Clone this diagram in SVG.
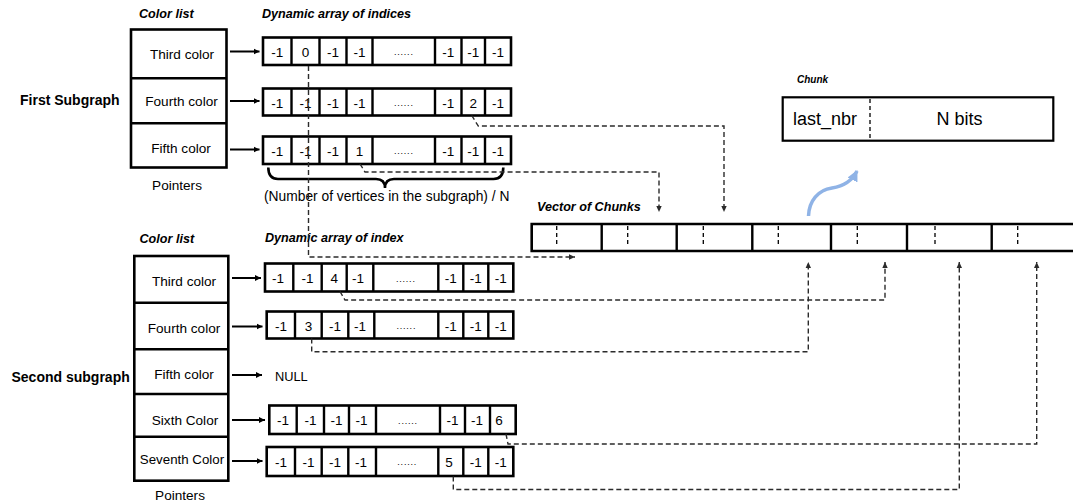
<svg xmlns="http://www.w3.org/2000/svg" width="1073" height="504" viewBox="0 0 1073 504">
<style>
text{font-family:"Liberation Sans",Arial,sans-serif;fill:#000}
.lbl{font-size:13.6px;text-anchor:middle}
.title{font-size:12.6px;font-weight:bold;font-style:italic}
.sg{font-size:14px;font-weight:bold}
.cell{font-size:13.5px;text-anchor:middle}
.dots{font-size:9px;text-anchor:middle;letter-spacing:0.8px}
.box{fill:#fff;stroke:#000;stroke-width:2.6}
.div{stroke:#000;stroke-width:2.4}
.ptr{stroke:#000;stroke-width:2;fill:none;marker-end:url(#ah)}
.dc{stroke:#2b2b2b;stroke-width:1.4;stroke-dasharray:5 3;fill:none}
.dca{stroke:#2b2b2b;stroke-width:1.4;stroke-dasharray:5 3;fill:none;marker-end:url(#dh)}
.vd{stroke:#000;stroke-width:1.3;stroke-dasharray:4 3}
</style>
<defs>
<marker id="ah" markerUnits="userSpaceOnUse" markerWidth="8" markerHeight="8" refX="6" refY="4" orient="auto"><path d="M0,1 L6,4 L0,7z" fill="#000"/></marker>
<marker id="dh" markerUnits="userSpaceOnUse" markerWidth="8" markerHeight="8" refX="6" refY="4" orient="auto"><path d="M0,1.3 L6,4 L0,6.7z" fill="#2b2b2b"/></marker>
<marker id="bh" markerUnits="userSpaceOnUse" markerWidth="14" markerHeight="14" refX="10" refY="7" orient="auto"><path d="M0,1.5 L11,7 L0,12.5z" fill="#8FB3E6"/></marker>
</defs>

<!-- labels -->
<g id="labels">
<text class="title" x="139" y="18">Color list</text>
<text class="title" x="262" y="18">Dynamic array of indices</text>
<text class="sg" x="20" y="105">First Subgraph</text>
<text class="lbl" x="177" y="190">Pointers</text>
<text x="264" y="201" style="font-size:13.8px">(Number of vertices in the subgraph) / N</text>
<text class="title" x="797" y="83" style="font-size:10px">Chunk</text>
<text class="title" x="537" y="211">Vector of Chunks</text>
<text class="title" x="139.5" y="242.5">Color list</text>
<text class="title" x="265" y="242">Dynamic array of index</text>
<text class="sg" x="11.5" y="382">Second subgraph</text>
<text class="lbl" x="180" y="500">Pointers</text>
</g>

<!-- first subgraph color list -->
<g id="colorlist1">
<rect class="box" x="131" y="29.5" width="95.5" height="138"/>
<line class="div" x1="131" y1="78.3" x2="226.5" y2="78.3"/>
<line class="div" x1="131" y1="123.3" x2="226.5" y2="123.3"/>
<text class="lbl" x="182" y="59">Third color</text>
<text class="lbl" x="181.5" y="105.5">Fourth color</text>
<text class="lbl" x="181" y="152.5">Fifth color</text>
</g>

<!-- second subgraph color list -->
<g id="colorlist2">
<rect class="box" x="134.3" y="256" width="94" height="224.7"/>
<line class="div" x1="134.3" y1="302.7" x2="228.3" y2="302.7"/>
<line class="div" x1="134.3" y1="349.3" x2="228.3" y2="349.3"/>
<line class="div" x1="134.3" y1="394" x2="228.3" y2="394"/>
<line class="div" x1="134.3" y1="436.7" x2="228.3" y2="436.7"/>
<text class="lbl" x="184" y="286">Third color</text>
<text class="lbl" x="184" y="333">Fourth color</text>
<text class="lbl" x="184" y="379">Fifth color</text>
<text class="lbl" x="185" y="425">Sixth Color</text>
<text class="lbl" x="182" y="464" style="font-size:13.3px">Seventh Color</text>
<text x="275" y="380.5" style="font-size:12.8px">NULL</text>
</g>

<!-- top arrays -->
<g id="arrayT1">
<rect class="box" x="263" y="37.5" width="248" height="27.5"/>
<path class="div" d="M291.5,37.5V65M319.5,37.5V65M346.5,37.5V65M372.5,37.5V65M435,37.5V65M461.5,37.5V65M485,37.5V65"/>
<text class="cell" x="277.3" y="56.5">-1</text><text class="cell" x="305.5" y="56.5">0</text><text class="cell" x="333" y="56.5">-1</text><text class="cell" x="359.5" y="56.5">-1</text><text class="dots" x="403.8" y="55">......</text><text class="cell" x="448.3" y="56.5">-1</text><text class="cell" x="473.3" y="56.5">-1</text><text class="cell" x="498" y="56.5">-1</text>
</g>
<g id="arrayT2">
<rect class="box" x="263" y="88.5" width="248" height="27"/>
<path class="div" d="M291.5,88.5V115.5M319.5,88.5V115.5M346.5,88.5V115.5M372.5,88.5V115.5M435,88.5V115.5M461.5,88.5V115.5M485,88.5V115.5"/>
<text class="cell" x="277.3" y="107.5">-1</text><text class="cell" x="305.5" y="107.5">-1</text><text class="cell" x="333" y="107.5">-1</text><text class="cell" x="359.5" y="107.5">-1</text><text class="dots" x="403.8" y="106">......</text><text class="cell" x="448.3" y="107.5">-1</text><text class="cell" x="473.3" y="107.5">2</text><text class="cell" x="498" y="107.5">-1</text>
</g>
<g id="arrayT3">
<rect class="box" x="263" y="136.5" width="248" height="27.5"/>
<path class="div" d="M291.5,136.5V164M319.5,136.5V164M346.5,136.5V164M372.5,136.5V164M435,136.5V164M461.5,136.5V164M485,136.5V164"/>
<text class="cell" x="277.3" y="155.5">-1</text><text class="cell" x="305.5" y="155.5">-1</text><text class="cell" x="333" y="155.5">-1</text><text class="cell" x="359.5" y="155.5">1</text><text class="dots" x="403.8" y="154">......</text><text class="cell" x="448.3" y="155.5">-1</text><text class="cell" x="473.3" y="155.5">-1</text><text class="cell" x="498" y="155.5">-1</text>
</g>

<!-- bottom arrays -->
<g id="arrayB1">
<rect class="box" x="265" y="263.5" width="248.3" height="28"/>
<path class="div" d="M293.3,263.5V291.5M321.7,263.5V291.5M346.7,263.5V291.5M373.3,263.5V291.5M438.3,263.5V291.5M463.3,263.5V291.5M488.3,263.5V291.5"/>
<text class="cell" x="278" y="283">-1</text><text class="cell" x="307.5" y="283">-1</text><text class="cell" x="334.2" y="283">4</text><text class="cell" x="358" y="283">-1</text><text class="dots" x="405.8" y="281.5">......</text><text class="cell" x="450.8" y="283">-1</text><text class="cell" x="475.8" y="283">-1</text><text class="cell" x="500.8" y="283">-1</text>
</g>
<g id="arrayB2">
<rect class="box" x="266.7" y="311.5" width="246.6" height="27"/>
<path class="div" d="M295,311.5V338.5M321.7,311.5V338.5M348.3,311.5V338.5M374.3,311.5V338.5M438.3,311.5V338.5M463.3,311.5V338.5M488.3,311.5V338.5"/>
<text class="cell" x="280.9" y="330.5">-1</text><text class="cell" x="308.4" y="330.5">3</text><text class="cell" x="335" y="330.5">-1</text><text class="cell" x="360" y="330.5">-1</text><text class="dots" x="406.3" y="329">......</text><text class="cell" x="450.8" y="330.5">-1</text><text class="cell" x="475.8" y="330.5">-1</text><text class="cell" x="500.8" y="330.5">-1</text>
</g>
<g id="arrayB4">
<rect class="box" x="269.3" y="405.5" width="246.4" height="28.5"/>
<path class="div" d="M296.7,405.5V434M324,405.5V434M349,405.5V434M376,405.5V434M440,405.5V434M465,405.5V434M490,405.5V434"/>
<text class="cell" x="283" y="425">-1</text><text class="cell" x="310.4" y="425">-1</text><text class="cell" x="336.5" y="425">-1</text><text class="cell" x="361.5" y="425">-1</text><text class="dots" x="408" y="423.5">......</text><text class="cell" x="452.5" y="425">-1</text><text class="cell" x="477" y="425">-1</text><text class="cell" x="499" y="425">6</text>
</g>
<g id="arrayB5">
<rect class="box" x="266.7" y="447" width="246.6" height="29"/>
<path class="div" d="M295,447V476M321.7,447V476M348.3,447V476M376,447V476M438.3,447V476M463.3,447V476M488.3,447V476"/>
<text class="cell" x="280.9" y="466.5">-1</text><text class="cell" x="308.4" y="466.5">-1</text><text class="cell" x="335" y="466.5">-1</text><text class="cell" x="361" y="466.5">-1</text><text class="dots" x="407.2" y="465">......</text><text class="cell" x="449" y="466.5">5</text><text class="cell" x="475.8" y="466.5">-1</text><text class="cell" x="500.8" y="466.5">-1</text>
</g>

<!-- vector of chunks -->
<g id="vector">
<path d="M1073,224H531.7V251H1073" fill="none" stroke="#000" stroke-width="2.6"/>
<path class="div" d="M601.7,224V251M676.7,224V251M752.3,224V251M831,224V251M907,224V251M991.7,224V251"/>
<path class="vd" d="M556.7,226V247M627.7,226V247M703.3,226V247M778.3,226V247M857.3,226V247M935,226V247M1017.7,226V247"/>
</g>

<!-- chunk -->
<g id="chunk">
<rect x="782.7" y="97.3" width="270.6" height="43.4" fill="#fff" stroke="#000" stroke-width="2.2"/>
<line class="vd" x1="870" y1="99" x2="870" y2="139"/>
<text x="793" y="125" style="font-size:18px">last_nbr</text>
<text x="936.5" y="125" style="font-size:18px">N bits</text>
</g>

<!-- brace -->
<g id="brace">
<path d="M268.3,167.5Q268.3,179 278,179H376Q385,179 385,188Q385,179 394,179H493.5Q503.3,179 503.3,167.5" fill="none" stroke="#000" stroke-width="2.6"/>
</g>

<!-- connectors -->
<g id="connectors">
<path class="ptr" d="M230,51.5H259.5"/>
<path class="ptr" d="M230,101H259.5"/>
<path class="ptr" d="M230,149.5H259.5"/>
<path class="ptr" d="M232,278H261"/>
<path class="ptr" d="M232,326.5H262.5"/>
<path class="ptr" d="M232,375H262"/>
<path class="ptr" d="M232,420H265"/>
<path class="ptr" d="M232,461H262.5"/>

<path class="dca" d="M308.5,66V257H575"/>
<path class="dca" d="M471.7,115.5L478.3,126H724V212"/>
<path class="dca" d="M360,164L365,172H659V212"/>
<path class="dca" d="M340,291.5L345,300H885V262"/>
<path class="dca" d="M311.7,338.5V351.7H808.3V262"/>
<path class="dca" d="M506,434L508,444H1036.7V262"/>
<path class="dca" d="M453.3,476.5V489.5H959.3V262"/>

<path d="M808.5,216C809,201 818,190 832,188C845,186 853,179 857,171" fill="none" stroke="#8FB3E6" stroke-width="3.5" marker-end="url(#bh)"/>
</g>
</svg>
